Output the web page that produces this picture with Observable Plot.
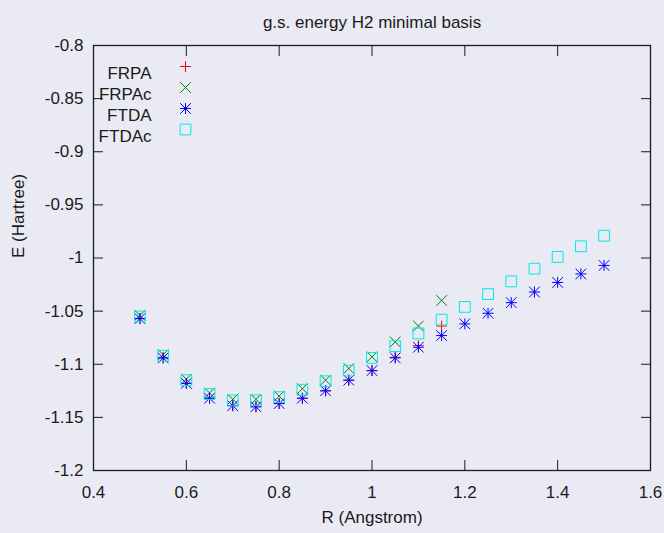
<!DOCTYPE html>
<html>
<head>
<meta charset="utf-8">
<script src="https://cdn.jsdelivr.net/npm/d3@7"></script>
<script src="https://cdn.jsdelivr.net/npm/@observablehq/plot@0.6"></script>
<style>
  html, body { margin: 0; padding: 0; background: #eaeaf4; }
  #chart svg { display: block; background: #eaeaf4; }
</style>
</head>
<body>
<div id="chart"></div>
<script>
// Data
const titleText = "g.s. energy H2 minimal basis";
const xLabel = "R (Angstrom)";
const yLabel = "E (Hartree)";
const xTicks = [0.4, 0.6, 0.8, 1.0, 1.2, 1.4, 1.6];
const yTicks = [-0.8, -0.85, -0.9, -0.95, -1.0, -1.05, -1.1, -1.15, -1.2];

const R_short = [0.5, 0.55, 0.6, 0.65, 0.7, 0.75, 0.8, 0.85, 0.9, 0.95, 1.0, 1.05, 1.1, 1.15];
const R_long = [0.5, 0.55, 0.6, 0.65, 0.7, 0.75, 0.8, 0.85, 0.9, 0.95, 1.0, 1.05, 1.1, 1.15, 1.2, 1.25, 1.3, 1.35, 1.4, 1.45, 1.5];

const FRPA  = [-1.057, -1.094, -1.118, -1.132, -1.139, -1.140, -1.137, -1.132, -1.125, -1.115, -1.106, -1.0935, -1.0825, -1.064];
const FRPAc = [-1.054, -1.091, -1.114, -1.127, -1.133, -1.133, -1.130, -1.123, -1.115, -1.104, -1.093, -1.079, -1.064, -1.040];
const FTDA  = [-1.057, -1.094, -1.118, -1.132, -1.139, -1.140, -1.137, -1.132, -1.125, -1.115, -1.106, -1.094, -1.084, -1.073, -1.062, -1.052, -1.042, -1.032, -1.023, -1.015, -1.007];
const FTDAc = [-1.055, -1.092, -1.115, -1.128, -1.134, -1.134, -1.131, -1.124, -1.116, -1.106, -1.094, -1.083, -1.071, -1.058, -1.046, -1.034, -1.022, -1.010, -0.999, -0.989, -0.979];

const seriesNames = ["FRPA", "FRPAc", "FTDA", "FTDAc"];
const seriesColors = ["#ff0000", "#008000", "#0000ff", "#00e8e8"];

const rows = (xs, ys) => xs.map((x, i) => ({x, y: ys[i]}));
const dFRPA = rows(R_short, FRPA);
const dFRPAc = rows(R_short, FRPAc);
const dFTDA = rows(R_long, FTDA);
const dFTDAc = rows(R_long, FTDAc);

const fmt = d => String(+d.toFixed(2));
const font = "'Liberation Sans', Arial, sans-serif";
const ink = "#1a1a1a";
const fs = 17;

// series marker specs: list of [symbol, r]
const markerSpecs = [
  [["plus", 3.6]],
  [["times", 4.9]],
  [["plus", 3.6], ["times", 4.9]],
  [["square", 6.1]]
];
const seriesData = [dFRPA, dFRPAc, dFTDA, dFTDAc];

const marks = [];
seriesData.forEach((data, i) => {
  for (const [sym, r] of markerSpecs[i]) {
    marks.push(Plot.dot(data, {x: "x", y: "y", symbol: () => sym, r, stroke: seriesColors[i], fill: "none", strokeWidth: 1}));
  }
});

// axes (inward ticks, mirrored)
marks.push(
  Plot.axisX({anchor: "bottom", ticks: xTicks, tickSize: -10, tickPadding: 25, tickFormat: fmt, label: null, fontSize: fs, fill: ink, stroke: ink}),
  Plot.axisX({anchor: "top", ticks: xTicks, tickSize: -10, tickFormat: () => "", label: null, stroke: ink}),
  Plot.axisY({anchor: "left", ticks: yTicks, tickSize: -10, tickPadding: 20, tickFormat: fmt, label: null, fontSize: fs, fill: ink, stroke: ink}),
  Plot.axisY({anchor: "right", ticks: yTicks, tickSize: -10, tickFormat: () => "", label: null, stroke: ink}),
  Plot.frame({stroke: ink, strokeWidth: 1.3})
);

// title and axis labels
marks.push(
  Plot.text([titleText], {text: d => d, frameAnchor: "top", dy: -30, fontSize: fs, fill: ink}),
  Plot.text([xLabel], {text: d => d, frameAnchor: "bottom", dy: 52, fontSize: fs, fill: ink}),
  Plot.text([yLabel], {text: d => d, frameAnchor: "left", dx: -75, rotate: -90, fontSize: fs, fill: ink})
);

// legend
seriesNames.forEach((name, i) => {
  const dy = 21 + i * 21;
  marks.push(Plot.text([name], {text: d => d, frameAnchor: "top-left", dx: 58, dy, textAnchor: "end", fontSize: fs, fill: ink}));
  for (const [sym, r] of markerSpecs[i]) {
    marks.push(Plot.dot([name], {frameAnchor: "top-left", dx: 92, dy, symbol: () => sym, r, stroke: seriesColors[i], fill: "none", strokeWidth: 1}));
  }
});

const chart = Plot.plot({
  width: 664,
  height: 533,
  marginLeft: 93,
  marginRight: 14,
  marginTop: 45,
  marginBottom: 63,
  style: {fontFamily: font, background: "#eaeaf4", color: ink},
  x: {domain: [0.4, 1.6]},
  y: {domain: [-1.2, -0.8]},
  symbol: {type: "identity"},
  marks
});
document.getElementById("chart").appendChild(chart);
</script>
</body>
</html>
